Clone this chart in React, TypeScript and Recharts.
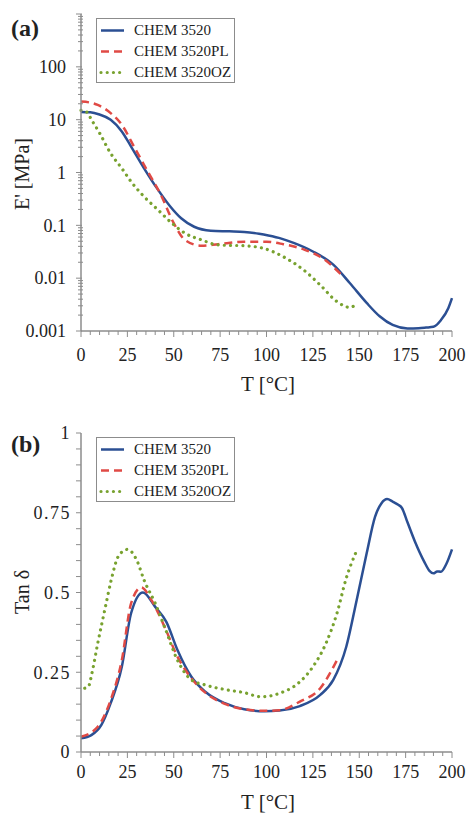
import React from "react"
import { Legend, Line, LineChart, XAxis, YAxis } from "recharts"

const SERIF = '"Liberation Serif", "Times New Roman", serif'
const AXIS = "#8c8c8c"
const TEXT = "#222222"

const seriesNames = ["CHEM 3520", "CHEM 3520PL", "CHEM 3520OZ"]
const seriesColors = ["#2b4f93", "#e04a45", "#78a22f"]

// (a) storage modulus E' [MPa] vs T [°C]
const aTempBase = [0, 5, 10, 16, 22, 27, 34, 41, 48, 54, 61, 70, 80, 88, 96, 101, 108, 115, 125, 136, 145, 154, 161, 168, 176, 182, 186, 190, 194, 198, 200]
const aModBase = [14, 13.8, 12.5, 10, 6, 3.1, 1.2, 0.5, 0.23, 0.136, 0.094, 0.079, 0.077, 0.075, 0.069, 0.064, 0.056, 0.046, 0.032, 0.018, 0.008, 0.0034, 0.0019, 0.0013, 0.00112, 0.00113, 0.00116, 0.0012, 0.0016, 0.0027, 0.0042]

const aTempPL = [0, 5, 9, 16, 22, 29, 36, 43, 50, 56, 65, 74, 88, 100, 109, 120, 131, 140]
const aModPL = [22, 21, 19, 13.3, 8, 2.9, 1.04, 0.38, 0.11, 0.053, 0.041, 0.044, 0.049, 0.049, 0.044, 0.035, 0.0228, 0.012]

const aTempOZ = [0, 3, 6, 10, 16, 22, 27, 34, 41.5, 49, 56, 65, 74, 88, 98, 109, 120, 129, 138, 145, 149]
const aModOZ = [15, 14, 9.5, 5.6, 2.3, 1.2, 0.67, 0.35, 0.196, 0.11, 0.071, 0.053, 0.0425, 0.041, 0.037, 0.0255, 0.0143, 0.0074, 0.0036, 0.0028, 0.0034]

// (b) tan delta vs T [°C]
const bTempBase = [0, 5.6, 11, 16, 22, 27, 33.4, 40, 46, 52, 59.5, 67, 77.5, 88, 99, 107, 118, 129, 136, 143, 148.6, 154, 158.5, 162, 165, 168, 171, 173, 176, 180, 185, 188, 190, 192, 194, 197, 200]
const bTanBase = [0.043, 0.053, 0.085, 0.153, 0.267, 0.435, 0.5, 0.455, 0.408, 0.32, 0.236, 0.189, 0.153, 0.134, 0.128, 0.13, 0.144, 0.179, 0.226, 0.33, 0.476, 0.623, 0.737, 0.78, 0.793, 0.785, 0.775, 0.765, 0.72, 0.66, 0.597, 0.567, 0.56, 0.566, 0.565, 0.59, 0.635]

const bTempPL = [0, 9, 16, 22, 27, 32.5, 38, 45, 52, 59.5, 67, 77.5, 88, 99, 107, 118, 129, 138]
const bTanPL = [0.048, 0.079, 0.163, 0.288, 0.466, 0.516, 0.476, 0.393, 0.299, 0.231, 0.186, 0.151, 0.134, 0.129, 0.131, 0.158, 0.2, 0.288]

const bTempOZ = [2, 4, 6, 9, 12.8, 16.3, 20, 25, 30, 34, 40, 45, 52, 59.5, 67, 77.5, 88, 97, 107, 118, 125, 132, 138, 143, 148]
const bTanOZ = [0.2, 0.205, 0.25, 0.34, 0.445, 0.539, 0.612, 0.635, 0.602, 0.539, 0.466, 0.393, 0.288, 0.226, 0.21, 0.196, 0.186, 0.173, 0.184, 0.22, 0.267, 0.34, 0.435, 0.545, 0.623]

// axis ticks
const tTicks = Array.from({ length: 41 }, (_, i) => i * 5)
const eMajor = [0.001, 0.01, 0.1, 1, 10, 100, 1000]
const eLabels = ["0.001", "0.01", "0.1", "1", "10", "100", ""]
const eTicks = eMajor.flatMap((d, i) => (i < eMajor.length - 1 ? [d, 2 * d, 3 * d, 4 * d, 5 * d, 6 * d, 7 * d, 8 * d, 9 * d] : [d]))
const tanTicks = Array.from({ length: 21 }, (_, i) => i * 0.05)
const tanLabels = ["0", "0.25", "0.5", "0.75", "1"]

const zip = (xs: number[], ys: number[]) => xs.map((T, i) => ({ T, v: ys[i] }))

const aSeries = [zip(aTempBase, aModBase), zip(aTempPL, aModPL), zip(aTempOZ, aModOZ)]
const bSeries = [zip(bTempBase, bTanBase), zip(bTempPL, bTanPL), zip(bTempOZ, bTanOZ)]

const lineStyles = [
  { strokeWidth: 2.5 },
  { strokeWidth: 2.5, strokeDasharray: "8 5" },
  { strokeWidth: 3.2, strokeDasharray: "0.01 6.2", strokeLinecap: "round" as const },
]

const makeTTick = (labelDy: number) => (props: any) => {
  const { x, y, payload } = props
  const v = payload.value
  const major = v % 25 === 0
  return (
    <g>
      <line x1={x} x2={x} y1={y} y2={y + (major ? 6 : 4)} stroke={AXIS} strokeWidth={1} />
      {major && (
        <text x={x} y={y + labelDy} textAnchor="middle" fontFamily={SERIF} fontSize={18} fill={TEXT}>
          {v}
        </text>
      )}
    </g>
  )
}

const LogTick = (props: any) => {
  const { x, y, payload } = props
  const i = eMajor.indexOf(payload.value)
  if (i < 0) return <line x1={x - 3} x2={x + 2} y1={y} y2={y} stroke={AXIS} strokeWidth={1} />
  return (
    <g>
      <line x1={x - 5} x2={x + 1} y1={y} y2={y} stroke={AXIS} strokeWidth={1} />
      <text x={x - 15} y={y} dy="0.35em" textAnchor="end" fontFamily={SERIF} fontSize={18} fill={TEXT}>
        {eLabels[i]}
      </text>
    </g>
  )
}

const TanTick = (props: any) => {
  const { x, y, payload } = props
  const v = payload.value
  const q = v * 4
  const major = Math.abs(q - Math.round(q)) < 1e-6
  return (
    <g>
      <line x1={x - 5} x2={x} y1={y} y2={y} stroke={AXIS} strokeWidth={1} />
      {major && (
        <text x={x - 10} y={y} dy="0.35em" textAnchor="end" fontFamily={SERIF} fontSize={18} letterSpacing={1.5} fill={TEXT}>
          {tanLabels[Math.round(q)]}
        </text>
      )}
    </g>
  )
}

function LegendBox() {
  return (
    <div
      style={{
        width: 137,
        height: 62,
        border: `1px solid ${AXIS}`,
        background: "#fff",
        fontFamily: SERIF,
        fontSize: 15,
        color: TEXT,
        paddingTop: 1,
        boxSizing: "content-box",
      }}
    >
      {seriesNames.map((name, i) => (
        <div key={name} style={{ display: "flex", alignItems: "center", height: 21 }}>
          <svg width={37} height={21}>
            <line x1={4} x2={27} y1={10.5} y2={10.5} stroke={seriesColors[i]} {...lineStyles[i]} />
          </svg>
          <span>{name}</span>
        </div>
      ))}
    </div>
  )
}

function Panel(props: {
  series: { T: number; v: number }[][]
  height: number
  marginTop: number
  marginBottom: number
  log: boolean
  labelDy: number
  legendTop: number
}) {
  const { series, height, marginTop, marginBottom, log, labelDy, legendTop } = props
  return (
    <LineChart width={468} height={height} margin={{ top: marginTop, right: 16, left: 0, bottom: marginBottom }}>
      <XAxis
        type="number"
        dataKey="T"
        domain={[0, 200]}
        ticks={tTicks}
        interval={0}
        tickSize={0}
        tickMargin={0}
        height={30}
        stroke={AXIS}
        axisLine={{ stroke: AXIS, strokeWidth: 1.5 }}
        tickLine={false}
        tick={makeTTick(labelDy)}
        allowDuplicatedCategory={false}
      />
      {log ? (
        <YAxis
          type="number"
          scale="log"
          domain={[0.001, 1000]}
          allowDataOverflow
          ticks={eTicks}
          interval={0}
          width={81}
          tickSize={0}
          tickMargin={0}
          axisLine={{ stroke: AXIS, strokeWidth: 1.5 }}
          tickLine={false}
          tick={LogTick}
        />
      ) : (
        <YAxis
          type="number"
          domain={[0, 1]}
          ticks={tanTicks}
          interval={0}
          width={81}
          tickSize={0}
          tickMargin={0}
          axisLine={{ stroke: AXIS, strokeWidth: 1.5 }}
          tickLine={false}
          tick={TanTick}
        />
      )}
      {series.map((d, i) => (
        <Line
          key={seriesNames[i]}
          data={d}
          dataKey="v"
          name={seriesNames[i]}
          type="monotone"
          stroke={seriesColors[i]}
          {...lineStyles[i]}
          dot={false}
          activeDot={false}
          isAnimationActive={false}
        />
      ))}
      <Legend
        layout="vertical"
        align="center"
        verticalAlign="middle"
        content={() => <LegendBox />}
        wrapperStyle={{ top: legendTop, left: 96, width: "auto", height: "auto" }}
      />
    </LineChart>
  )
}

const textStyle: React.CSSProperties = {
  position: "absolute",
  fontFamily: SERIF,
  color: TEXT,
  whiteSpace: "nowrap",
  lineHeight: 1,
}

export default function App() {
  return (
    <div style={{ position: "absolute", left: 0, top: 0, width: 468, height: 813, background: "#fff", overflow: "hidden" }}>
      <div style={{ position: "absolute", left: 0, top: 0 }}>
        <Panel series={aSeries} height={400} marginTop={14} marginBottom={39} log labelDy={30} legendTop={18} />
      </div>
      <div style={{ position: "absolute", left: 0, top: 400 }}>
        <Panel series={bSeries} height={413} marginTop={33} marginBottom={31} log={false} labelDy={26} legendTop={37} />
      </div>

      <div style={{ ...textStyle, left: 11, top: 16, fontSize: 24, fontWeight: "bold" }}>(a)</div>
      <div style={{ ...textStyle, left: 11, top: 432, fontSize: 24, fontWeight: "bold" }}>(b)</div>

      <div style={{ ...textStyle, left: 22, top: 174, fontSize: 20, transform: "translate(-50%, -50%) rotate(-90deg)" }}>
        E' [MPa]
      </div>
      <div style={{ ...textStyle, left: 22, top: 592, fontSize: 20, transform: "translate(-50%, -50%) rotate(-90deg)" }}>
        Tan δ
      </div>

      <div style={{ ...textStyle, left: 268, top: 384, fontSize: 21, transform: "translate(-50%, -50%)" }}>T [°C]</div>
      <div style={{ ...textStyle, left: 268, top: 802, fontSize: 21, transform: "translate(-50%, -50%)" }}>T [°C]</div>
    </div>
  )
}
